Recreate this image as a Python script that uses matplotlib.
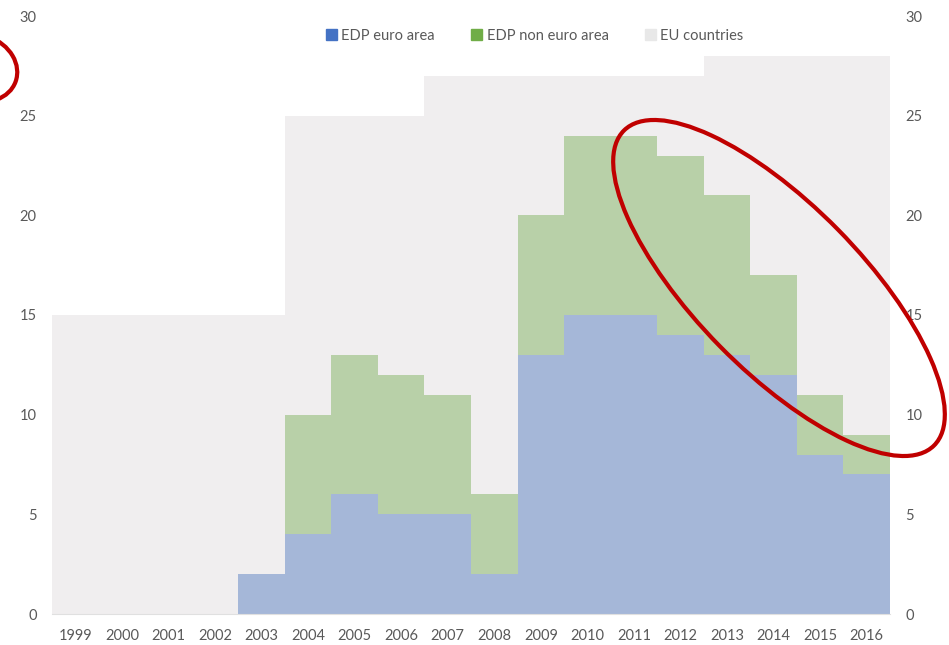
"""Excessive deficit procedures vs number of EU countries, 1999-2016."""

import matplotlib

matplotlib.use("Agg")
import matplotlib.pyplot as plt
from matplotlib.patches import Ellipse, Patch
from matplotlib.transforms import Affine2D

years = [1999, 2000, 2001, 2002, 2003, 2004, 2005, 2006, 2007,
         2008, 2009, 2010, 2011, 2012, 2013, 2014, 2015, 2016]
eu_countries = [15, 15, 15, 15, 15, 25, 25, 25, 27,
                27, 27, 27, 27, 27, 28, 28, 28, 28]
edp_euro = [0, 0, 0, 0, 2, 4, 6, 5, 5, 2, 13, 15, 15, 14, 13, 12, 8, 7]
edp_non_euro = [0, 0, 0, 0, 0, 6, 7, 7, 6, 4, 7, 9, 9, 9, 8, 5, 3, 2]

W, H = 949, 645
GREY_TXT = "#595959"

plt.rcParams["font.family"] = ["Lato", "DejaVu Sans"]

fig = plt.figure(figsize=(W / 100, H / 100), dpi=100)
ax = fig.add_axes([52 / W, 1 - 614 / H, 838 / W, 598 / H])

bar_kw = dict(width=1.0, linewidth=0, align="center")
ax.bar(years, eu_countries, color="#F0EEEF", **bar_kw)
ax.bar(years, edp_euro, color="#A5B7D8", **bar_kw)
ax.bar(years, edp_non_euro, bottom=edp_euro, color="#B8D0A8", **bar_kw)

ax.set_xlim(years[0] - 0.5, years[-1] + 0.5)
ax.set_ylim(0, 30)
ax.set_xticks(years)
ax.set_xticklabels([str(y) for y in years])
ax.set_yticks(range(0, 31, 5))
ax.tick_params(axis="x", length=0, pad=11, labelsize=10.5, colors=GREY_TXT)
ax.tick_params(axis="y", length=0, pad=11, labelsize=10.5, colors=GREY_TXT,
               labelright=True)
for side in ("top", "left", "right"):
    ax.spines[side].set_visible(False)
ax.spines["bottom"].set_color("#E0E0E0")
ax.spines["bottom"].set_linewidth(0.8)

handles = [
    Patch(color="#4472C4", label="EDP euro area"),
    Patch(color="#70AD47", label="EDP non euro area"),
    Patch(color="#E8E8E8", label="EU countries"),
]
ax.legend(handles=handles, loc="center", bbox_to_anchor=(0.576, 0.967),
          ncol=3, frameon=False, fontsize=10.5, handlelength=0.75,
          handleheight=0.75, handletextpad=0.3, columnspacing=2.5,
          labelcolor=GREY_TXT)

# red hand-drawn style highlight ellipses (positions in image pixels)
px = Affine2D().scale(1 / W, -1 / H).translate(0, 1) + fig.transFigure
fig.add_artist(Ellipse((779, 288), 442, 166, angle=45.5, transform=px,
                       fill=False, edgecolor="#C00000", linewidth=3))
fig.add_artist(Ellipse((-22, 68), 80, 66, angle=20, transform=px,
                       fill=False, edgecolor="#C00000", linewidth=3))

fig.savefig("out.png", dpi=100)
